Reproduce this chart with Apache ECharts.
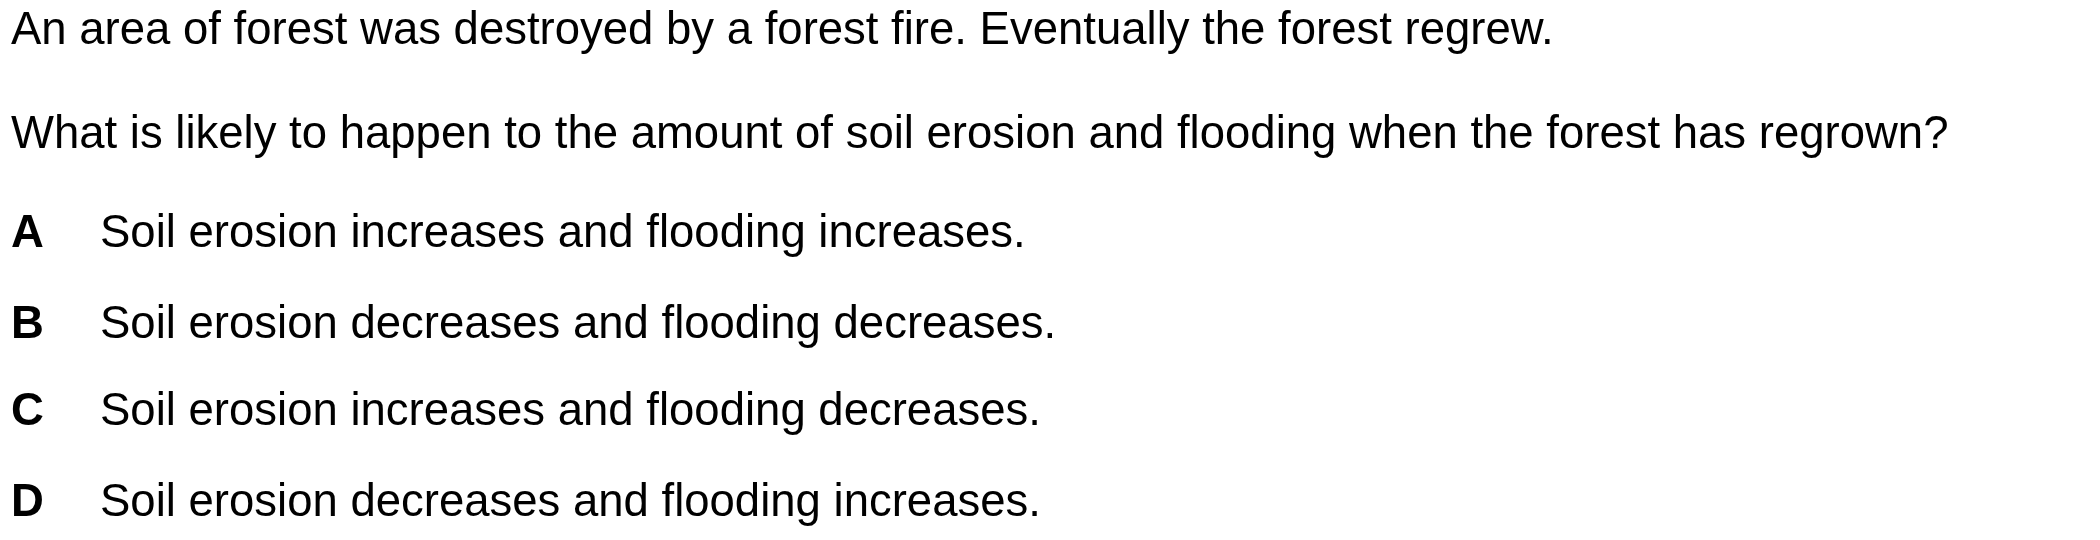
<!DOCTYPE html>
<html><head><meta charset="utf-8">
<script src="https://cdn.jsdelivr.net/npm/echarts@6/dist/echarts.min.js"></script>
<style>html,body{margin:0;background:#fff}#c{width:2100px;height:540px}</style>
</head><body><div id="c"></div>
<script>
const stemLines = ["An area of forest was destroyed by a forest fire. Eventually the forest regrew.",
  "What is likely to happen to the amount of soil erosion and flooding when the forest has regrown?"];
const optionLetters = ["A","B","C","D"];
const optionTexts = ["Soil erosion increases and flooding increases.",
  "Soil erosion decreases and flooding decreases.",
  "Soil erosion increases and flooding decreases.",
  "Soil erosion decreases and flooding increases."];
const chart = echarts.init(document.getElementById('c'));
const font = '"Liberation Sans", Arial, sans-serif';
const els = [];
const stemY = [34, 138];
const optY = [237, 328, 415, 506];
stemLines.forEach((t,i)=>els.push({type:'text',left:11,top:stemY[i]-26,style:{text:t,font:'45.5px '+font,fill:'#000'}}));
optionLetters.forEach((l,i)=>{
  els.push({type:'text',left:11,top:optY[i]-26,style:{text:l,font:'bold 45.5px '+font,fill:'#000'}});
  els.push({type:'text',left:100,top:optY[i]-26,style:{text:optionTexts[i],font:'45.5px '+font,fill:'#000'}});
});
chart.setOption({backgroundColor:'#fff',graphic:els});
</script></body></html>
